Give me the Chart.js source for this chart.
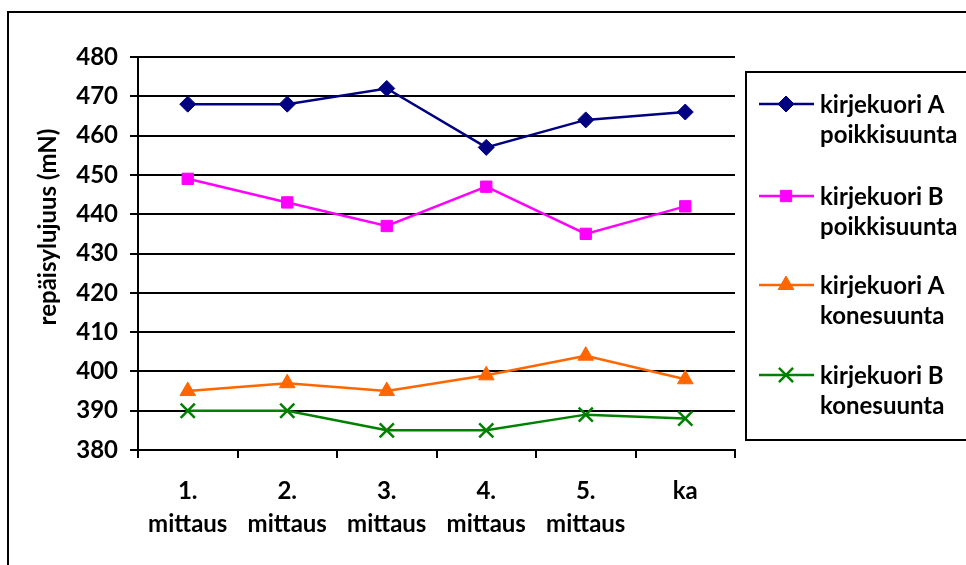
<!DOCTYPE html>
<html lang="fi">
<head>
<meta charset="UTF-8">
<title>Repäisylujuus</title>
<script src="https://cdn.jsdelivr.net/npm/chart.js@4.4.1/dist/chart.umd.min.js"></script>
<style>
  body { margin: 0; background: #fff; }
  #wrap { width: 966px; height: 565px; }
</style>
</head>
<body>
<div id="wrap"><canvas id="chart" width="966" height="565"></canvas></div>
<script>
// data
const categories = [['1.', 'mittaus'], ['2.', 'mittaus'], ['3.', 'mittaus'], ['4.', 'mittaus'], ['5.', 'mittaus'], 'ka'];
const seriesNames = [
  ['kirjekuori A', 'poikkisuunta'],
  ['kirjekuori B', 'poikkisuunta'],
  ['kirjekuori A', 'konesuunta'],
  ['kirjekuori B', 'konesuunta']
];
const aPoikki = [468, 468, 472, 457, 464, 466];
const bPoikki = [449, 443, 437, 447, 435, 442];
const aKone = [395, 397, 395, 399, 404, 398];
const bKone = [390, 390, 385, 385, 389, 388];
const yMin = 380, yMax = 480, yStep = 10;
const yTitle = 'repäisylujuus (mN)';

const FONT = 'Lato, "Liberation Sans", sans-serif';
const FS = 24;
const colors = ['#000080', '#FF00FF', '#FF6600', '#008000'];
const styles = ['rectRot', 'rect', 'triangle', 'crossRot'];
const radii = [8, 8, 9, 10];

const mkSet = (i, data) => ({
  label: seriesNames[i].join(' '),
  data: data,
  borderColor: colors[i],
  backgroundColor: colors[i],
  borderWidth: 2.5,
  pointStyle: styles[i],
  pointRadius: radii[i],
  pointHoverRadius: radii[i],
  pointBorderWidth: i === 3 ? 2.5 : 1,
  pointBackgroundColor: colors[i],
  pointBorderColor: colors[i],
  tension: 0
});

// frame, y-title and the boxed legend on the right
const extras = {
  id: 'extras',
  afterDraw(chart) {
    const ctx = chart.ctx;
    ctx.save();
    ctx.strokeStyle = '#000';
    ctx.lineWidth = 2;
    ctx.strokeRect(8, 12, 970, 570);

    // y title
    ctx.fillStyle = '#000';
    ctx.font = 'bold ' + FS + 'px ' + FONT;
    ctx.textAlign = 'center';
    ctx.textBaseline = 'middle';
    ctx.translate(48, 227);
    ctx.rotate(-Math.PI / 2);
    ctx.fillText(yTitle, 0, 0);
    ctx.restore();

    ctx.save();
    ctx.lineWidth = 2;
    ctx.strokeStyle = '#000';
    ctx.strokeRect(746, 72, 240, 368);
    const rows = [104, 196, 285, 375];
    chart.data.datasets.forEach((ds, i) => {
      const y = rows[i];
      ctx.strokeStyle = ds.borderColor;
      ctx.lineWidth = 2.5;
      ctx.beginPath();
      ctx.moveTo(759, y);
      ctx.lineTo(814, y);
      ctx.stroke();
      ctx.fillStyle = ds.pointBackgroundColor;
      ctx.strokeStyle = ds.pointBorderColor;
      ctx.lineWidth = ds.pointBorderWidth;
      Chart.helpers.drawPoint(ctx, { pointStyle: ds.pointStyle, radius: ds.pointRadius, rotation: 0, borderWidth: ds.pointBorderWidth }, 786, y);
      ctx.fillStyle = '#000';
      ctx.font = 'bold ' + FS + 'px ' + FONT;
      ctx.textAlign = 'left';
      ctx.textBaseline = 'middle';
      ctx.fillText(seriesNames[i][0], 820, y + 1);
      ctx.fillText(seriesNames[i][1], 820, y + 31);
    });
    ctx.restore();
  }
};

new Chart(document.getElementById('chart'), {
  type: 'line',
  data: {
    labels: categories,
    datasets: [mkSet(0, aPoikki), mkSet(1, bPoikki), mkSet(2, aKone), mkSet(3, bKone)]
  },
  options: {
    responsive: false,
    animation: false,
    devicePixelRatio: 1,
    layout: { padding: { left: 0, top: 57, right: 231, bottom: 0 } },
    plugins: { legend: { display: false }, tooltip: { enabled: false } },
    scales: {
      x: {
        offset: true,
        afterFit: s => { s.height = 115; },
        border: { color: '#000', width: 2 },
        grid: {
          offset: true,
          color: c => (c.index === 0 || c.index === categories.length) ? '#000' : 'rgba(0,0,0,0)',
          lineWidth: 2,
          tickColor: '#000',
          tickLength: 8,
          tickWidth: 2
        },
        ticks: {
          color: '#000',
          maxRotation: 0,
          autoSkip: false,
          padding: 17,
          font: { family: FONT, size: FS, weight: 'bold', lineHeight: 33 / FS }
        }
      },
      y: {
        min: yMin,
        max: yMax,
        afterFit: s => { s.width = 138; },
        border: { color: '#000', width: 2 },
        grid: { color: '#000', lineWidth: 2, tickLength: 8, tickColor: '#000' },
        ticks: {
          stepSize: yStep,
          color: '#000',
          padding: 12,
          font: { family: FONT, size: FS, weight: 'bold' }
        }
      }
    }
  },
  plugins: [extras]
});
</script>
</body>
</html>
